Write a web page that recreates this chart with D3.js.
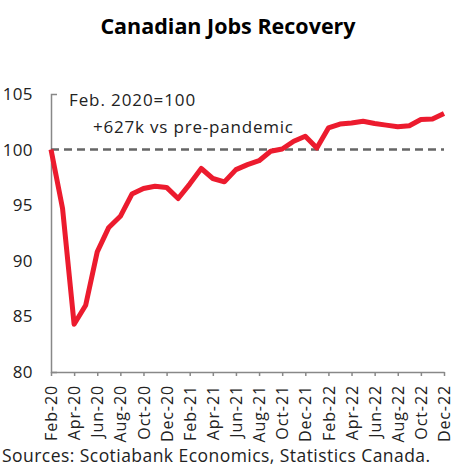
<!DOCTYPE html>
<html>
<head>
<meta charset="utf-8">
<script src="https://cdn.jsdelivr.net/npm/d3@7"></script>
<style>
  body { margin: 0; background: #fff; }
  text { font-family: "Open Sans", "Noto Sans", sans-serif; }
</style>
</head>
<body>
<svg id="chart" width="454" height="472"></svg>
<script>
// monthly labels, Feb-20 .. Dec-22
const months = ["Feb-20","Mar-20","Apr-20","May-20","Jun-20","Jul-20","Aug-20","Sep-20","Oct-20","Nov-20","Dec-20",
  "Jan-21","Feb-21","Mar-21","Apr-21","May-21","Jun-21","Jul-21","Aug-21","Sep-21","Oct-21","Nov-21","Dec-21",
  "Jan-22","Feb-22","Mar-22","Apr-22","May-22","Jun-22","Jul-22","Aug-22","Sep-22","Oct-22","Nov-22","Dec-22"];

// employment index, Feb. 2020 = 100
const jobs = [100, 94.7, 84.3, 86.0, 90.8, 93.0, 94.0, 96.0, 96.5, 96.7, 96.6,
  95.6, 96.9, 98.3, 97.4, 97.1, 98.2, 98.65, 99.0, 99.85, 100.05, 100.75, 101.2,
  100.15, 101.95, 102.3, 102.4, 102.55, 102.35, 102.2, 102.05, 102.15, 102.7, 102.75, 103.25];

const yTicks = [80, 85, 90, 95, 100, 105];
const baseline = 100;

const svg = d3.select("#chart");
const margin = {top: 94, right: 10, bottom: 100, left: 51};
const width = 444 - margin.left, height = 372 - margin.top;

const x = d3.scaleLinear().domain([0, months.length - 1]).range([0, width]);
const y = d3.scaleLinear().domain([80, 105]).range([height, 0]);

svg.append("text")
  .attr("x", 228).attr("y", 34)
  .attr("text-anchor", "middle")
  .style("font-size", "21.5px").style("font-weight", "bold")
  .text("Canadian Jobs Recovery");

const g = svg.append("g").attr("transform", `translate(${margin.left},${margin.top})`);

// y axis
const yAxis = g.append("g")
  .call(d3.axisLeft(y).tickValues(yTicks).tickSize(0).tickSizeOuter(-6).tickPadding(18));
yAxis.select(".domain").attr("stroke", "#888").attr("stroke-width", 1.5);
yAxis.selectAll("text").style("font-size", "17px").style("letter-spacing", "0.4px").attr("fill", "#222");

// x axis
const xAxis = g.append("g")
  .attr("transform", `translate(0,${height})`)
  .call(d3.axisBottom(x)
    .tickValues(d3.range(0, months.length, 2))
    .tickFormat(i => months[i])
    .tickSize(4).tickSizeOuter(0));
xAxis.select(".domain").attr("stroke", "#888").attr("stroke-width", 1.5);
xAxis.selectAll(".tick line").attr("stroke", "#888").attr("stroke-width", 1.5);
xAxis.selectAll("text")
  .style("font-size", "16px").style("letter-spacing", "0.9px").attr("fill", "#222")
  .attr("text-anchor", "end")
  .attr("dy", "0.35em")
  .attr("transform", "translate(0,13) rotate(-90)")
  .attr("x", 0).attr("y", 0);

// reference line at 100
g.append("line")
  .attr("x1", 0).attr("x2", width)
  .attr("y1", y(baseline)).attr("y2", y(baseline))
  .attr("stroke", "#666").attr("stroke-width", 2.5)
  .attr("stroke-dasharray", "8,5");

// jobs line
g.append("path")
  .datum(jobs)
  .attr("fill", "none")
  .attr("stroke", "#ec1b2e")
  .attr("stroke-width", 5)
  .attr("stroke-linejoin", "round")
  .attr("d", d3.line().x((d, i) => x(i)).y(d => y(d)));

// annotations
svg.append("text").attr("x", 69).attr("y", 106)
  .style("font-size", "17px").style("letter-spacing", "0.9px").attr("fill", "#222")
  .text("Feb. 2020=100");
svg.append("text").attr("x", 93).attr("y", 133)
  .style("font-size", "17px").style("letter-spacing", "0.8px").attr("fill", "#222")
  .text("+627k vs pre-pandemic");

svg.append("text").attr("x", 2).attr("y", 462)
  .style("font-size", "17.5px").style("letter-spacing", "0.45px").attr("fill", "#222")
  .text("Sources: Scotiabank Economics, Statistics Canada.");
</script>
</body>
</html>
